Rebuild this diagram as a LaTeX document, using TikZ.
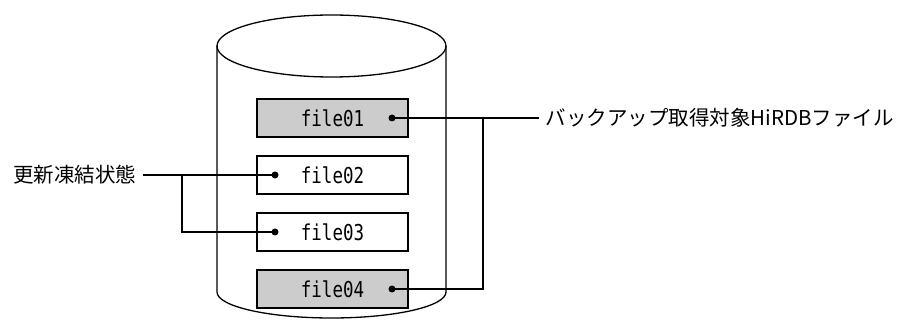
\documentclass[tikz,border=0pt]{standalone}
\usepackage{fontspec}
\newfontfamily\jpfont{Noto Sans CJK JP}
\setmonofont{DejaVu Sans Mono}
\newcommand\fname[1]{\scalebox{1}[1.25]{#1}}

\tikzset{
  filebox/.style={draw, minimum width=151pt, minimum height=38pt, inner sep=0pt,
    font=\ttfamily\fontsize{17.5}{17.5}\selectfont},
  jplabel/.style={font=\jpfont\fontsize{20.5}{20.5}\selectfont, inner sep=0pt}
}

\begin{document}
\begin{tikzpicture}[x=1pt, y=-1pt, line width=1.3pt]
  \useasboundingbox (0,0) rectangle (897,320);

  % cylinder
  \draw (217,46) -- (217,292) arc[start angle=180, end angle=360, x radius=114.5pt, y radius=26pt] -- (446,46);
  \draw (331.5,46) ellipse[x radius=114.5pt, y radius=31pt];

  % files
  \node[filebox, fill=black!20] (file01) at (332.5,118) {\fname{file01}};
  \node[filebox] (file02) at (332.5,175) {\fname{file02}};
  \node[filebox] (file03) at (332.5,232) {\fname{file03}};
  \node[filebox, fill=black!20] (file04) at (332.5,289) {\fname{file04}};

  \coordinate (dot01) at (392,118);
  \coordinate (dot02) at (275,175);
  \coordinate (dot03) at (275,232);
  \coordinate (dot04) at (392,289);
  \foreach \d in {dot01,dot02,dot03,dot04}
    \fill (\d) circle[radius=3.5pt];

  % labels
  \node[jplabel, anchor=east] (frozen) at (137,175) {更新凍結状態};
  \node[jplabel, anchor=west] (target) at (545,118) {バックアップ取得対象HiRDBファイル};

  % connectors
  \draw ([xshift=-6pt]target.west) -- (dot01);
  \draw (dot04) -| (483,118);
  \draw ([xshift=6pt]frozen.east) -- (dot02);
  \draw (182,175) |- (dot03);
\end{tikzpicture}
\end{document}
